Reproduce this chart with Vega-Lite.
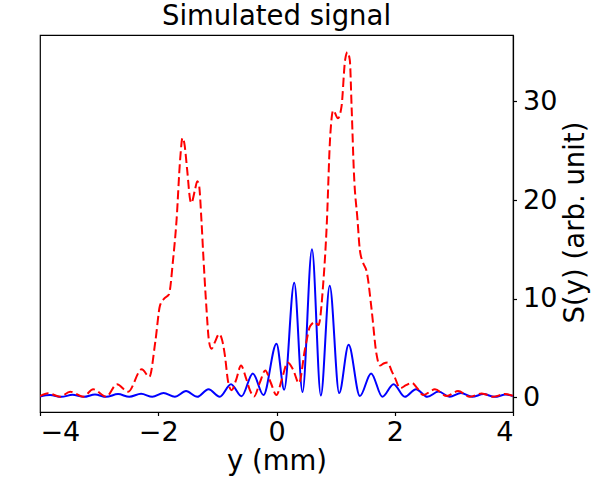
{
  "$schema": "https://vega.github.io/schema/vega-lite/v6.json",
  "autosize": "none",
  "width": 473,
  "height": 377,
  "padding": {"left": 40, "top": 35, "right": 79, "bottom": 70},
  "background": "white",
  "title": {"text": "Simulated signal", "fontSize": 27.5, "font": "DejaVu Sans", "fontWeight": "normal", "color": "black", "offset": 5},
  "config": {
    "view": {"stroke": "black", "strokeWidth": 1.2},
    "axis": {"labelFont": "DejaVu Sans", "titleFont": "DejaVu Sans", "labelFontSize": 27, "titleFontSize": 27.5, "titleFontWeight": "normal", "labelColor": "black", "titleColor": "black", "tickColor": "black", "domainColor": "black", "grid": false, "tickSize": 3.5, "domainWidth": 1.2, "tickWidth": 1.2}
  },
  "datasets": {
    "blue": [
      {"x": -4.0, "y": 0.05}, {"x": -3.83, "y": 0.2}, {"x": -3.64, "y": 0.02}, {"x": -3.45, "y": 0.22},
      {"x": -3.26, "y": 0.02}, {"x": -3.07, "y": 0.25}, {"x": -2.88, "y": 0.02}, {"x": -2.68, "y": 0.3},
      {"x": -2.49, "y": 0.02}, {"x": -2.29, "y": 0.33}, {"x": -2.10, "y": 0.02}, {"x": -1.91, "y": 0.4},
      {"x": -1.72, "y": 0.02}, {"x": -1.53, "y": 0.6}, {"x": -1.34, "y": 0.02}, {"x": -1.15, "y": 0.8},
      {"x": -0.96, "y": 0.03}, {"x": -0.77, "y": 1.3}, {"x": -0.59, "y": 0.08}, {"x": -0.40, "y": 2.4},
      {"x": -0.22, "y": 0.2}, {"x": 0.0, "y": 5.4}, {"x": 0.13, "y": 0.75}, {"x": 0.30, "y": 11.6},
      {"x": 0.44, "y": 0.5}, {"x": 0.60, "y": 15.0}, {"x": 0.75, "y": 0.15}, {"x": 0.90, "y": 11.3},
      {"x": 1.06, "y": 0.4}, {"x": 1.22, "y": 5.3}, {"x": 1.41, "y": 0.1}, {"x": 1.60, "y": 2.4},
      {"x": 1.79, "y": 0.03}, {"x": 1.98, "y": 1.3}, {"x": 2.17, "y": 0.02}, {"x": 2.36, "y": 0.8},
      {"x": 2.55, "y": 0.02}, {"x": 2.74, "y": 0.55}, {"x": 2.93, "y": 0.02}, {"x": 3.12, "y": 0.4},
      {"x": 3.31, "y": 0.02}, {"x": 3.50, "y": 0.3}, {"x": 3.69, "y": 0.02}, {"x": 3.88, "y": 0.25},
      {"x": 4.0, "y": 0.1}
    ],
    "red": [
      {"x": -4.0, "y": 0.1}, {"x": -3.86, "y": 0.38}, {"x": -3.66, "y": 0.03}, {"x": -3.49, "y": 0.54},
      {"x": -3.27, "y": 0.03}, {"x": -3.10, "y": 0.78}, {"x": -2.88, "y": 0.03}, {"x": -2.70, "y": 1.29},
      {"x": -2.51, "y": 0.54}, {"x": -2.28, "y": 2.81}, {"x": -2.15, "y": 2.06}, {"x": -2.05, "y": 5.6},
      {"x": -1.97, "y": 9.3}, {"x": -1.90, "y": 10.0}, {"x": -1.82, "y": 10.4}, {"x": -1.75, "y": 13.9},
      {"x": -1.69, "y": 18.0}, {"x": -1.63, "y": 24.1}, {"x": -1.59, "y": 26.3}, {"x": -1.56, "y": 25.8},
      {"x": -1.51, "y": 23.0}, {"x": -1.46, "y": 20.0}, {"x": -1.44, "y": 19.7}, {"x": -1.38, "y": 21.0},
      {"x": -1.34, "y": 21.9}, {"x": -1.31, "y": 21.5}, {"x": -1.27, "y": 18.0}, {"x": -1.24, "y": 14.6},
      {"x": -1.19, "y": 9.5}, {"x": -1.14, "y": 5.6}, {"x": -1.10, "y": 4.9}, {"x": -1.04, "y": 5.6},
      {"x": -0.97, "y": 6.4}, {"x": -0.92, "y": 5.8}, {"x": -0.87, "y": 4.1}, {"x": -0.82, "y": 1.6},
      {"x": -0.76, "y": 0.7}, {"x": -0.68, "y": 1.8}, {"x": -0.60, "y": 3.2}, {"x": -0.52, "y": 2.0},
      {"x": -0.45, "y": 0.7}, {"x": -0.38, "y": 0.05}, {"x": -0.28, "y": 1.5}, {"x": -0.19, "y": 2.7},
      {"x": -0.10, "y": 1.5}, {"x": 0.0, "y": 0.2}, {"x": 0.09, "y": 1.8}, {"x": 0.19, "y": 3.5},
      {"x": 0.28, "y": 2.8}, {"x": 0.38, "y": 1.4}, {"x": 0.48, "y": 4.8}, {"x": 0.57, "y": 7.2},
      {"x": 0.65, "y": 7.6}, {"x": 0.71, "y": 7.3}, {"x": 0.79, "y": 11.5}, {"x": 0.85, "y": 17.5},
      {"x": 0.905, "y": 26.1}, {"x": 0.96, "y": 29.1}, {"x": 1.04, "y": 28.3}, {"x": 1.10, "y": 29.5},
      {"x": 1.16, "y": 34.2}, {"x": 1.20, "y": 35.0}, {"x": 1.24, "y": 34.2}, {"x": 1.27, "y": 29.5},
      {"x": 1.31, "y": 22.7}, {"x": 1.37, "y": 18.0}, {"x": 1.41, "y": 14.9}, {"x": 1.46, "y": 13.7},
      {"x": 1.53, "y": 12.6}, {"x": 1.61, "y": 8.8}, {"x": 1.69, "y": 4.4}, {"x": 1.75, "y": 3.2},
      {"x": 1.81, "y": 3.4}, {"x": 1.88, "y": 3.5}, {"x": 1.95, "y": 2.6}, {"x": 2.0, "y": 2.0},
      {"x": 2.09, "y": 0.9}, {"x": 2.19, "y": 1.2}, {"x": 2.29, "y": 1.45}, {"x": 2.38, "y": 0.9},
      {"x": 2.48, "y": 0.2}, {"x": 2.68, "y": 0.78}, {"x": 2.88, "y": 0.1}, {"x": 3.07, "y": 0.6},
      {"x": 3.27, "y": 0.03}, {"x": 3.47, "y": 0.37}, {"x": 3.67, "y": 0.03}, {"x": 3.86, "y": 0.3},
      {"x": 4.0, "y": 0.13}
    ]
  },
  "encoding": {
    "x": {"field": "x", "type": "quantitative", "scale": {"domain": [-4, 4], "nice": false, "zero": false},
      "axis": {"title": "y (mm)", "values": [-4, -2, 0, 2, 4], "labelPadding": 4, "titlePadding": 2}},
    "y": {"field": "y", "type": "quantitative", "scale": {"domain": [-1.52, 36.75], "nice": false, "zero": false},
      "axis": {"orient": "right", "title": "S(y) (arb. unit)", "values": [0, 10, 20, 30], "labelPadding": 6,
        "titleAngle": 270, "titleBaseline": "middle", "titleAlign": "center", "titleX": 62, "titleY": 187}}
  },
  "layer": [
    {"data": {"name": "blue"}, "mark": {"type": "line", "color": "#0000ff", "strokeWidth": 2, "interpolate": "monotone", "clip": true}},
    {"data": {"name": "red"}, "mark": {"type": "line", "color": "#ff0000", "strokeWidth": 2, "strokeDash": [9, 4], "interpolate": "monotone", "clip": true}}
  ]
}
